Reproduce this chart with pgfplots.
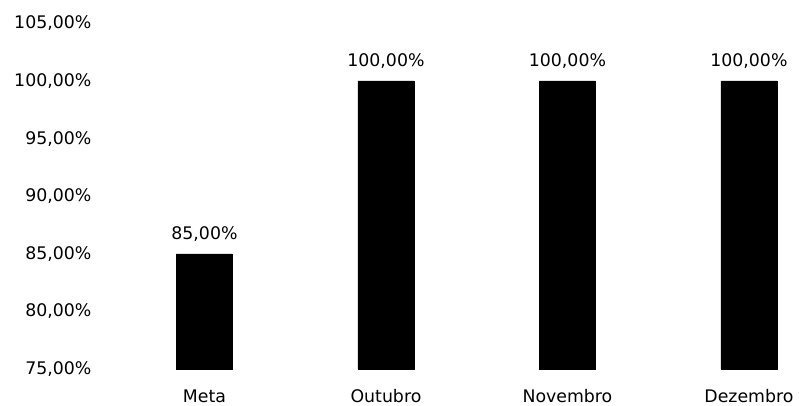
\documentclass[border=0pt]{standalone}
\usepackage{fontspec}
\setmainfont{DejaVu Sans}
\usepackage{pgfplots}
\pgfplotsset{compat=1.18}
\begin{document}
\begin{tikzpicture}
\useasboundingbox (-73.05pt,-27.75pt) rectangle (526.2pt,276.75pt);
\begin{axis}[
  scale only axis,
  width=525.4pt, height=259.2pt,
  xmin=-0.59, xmax=3.27,
  ymin=75, ymax=105,
  ytick={75,80,...,105},
  xtick={0,1,2,3},
  xticklabels={Meta,Outubro,Novembro,Dezembro},
  axis line style={draw=none},
  major tick length=0pt,
  font=\fontsize{13pt}{15pt}\selectfont,
  /pgf/number format/assume math mode=true,
  yticklabel={\pgfmathprintnumber[fixed,fixed zerofill,precision=2,use comma]{\tick}\%},
  yticklabel style={anchor=east, xshift=-1pt},
  xticklabel style={yshift=-12pt},
  ybar, bar width=42pt,
  nodes near coords={\pgfmathprintnumber[fixed,fixed zerofill,precision=2,use comma]{\pgfplotspointmeta}\%},
  nodes near coords style={font=\fontsize{13pt}{15pt}\selectfont, yshift=6pt},
  clip=false,
]
\addplot[fill=black, draw=black] coordinates {(0,85) (1,100) (2,100) (3,100)};
\end{axis}
\end{tikzpicture}
\end{document}
